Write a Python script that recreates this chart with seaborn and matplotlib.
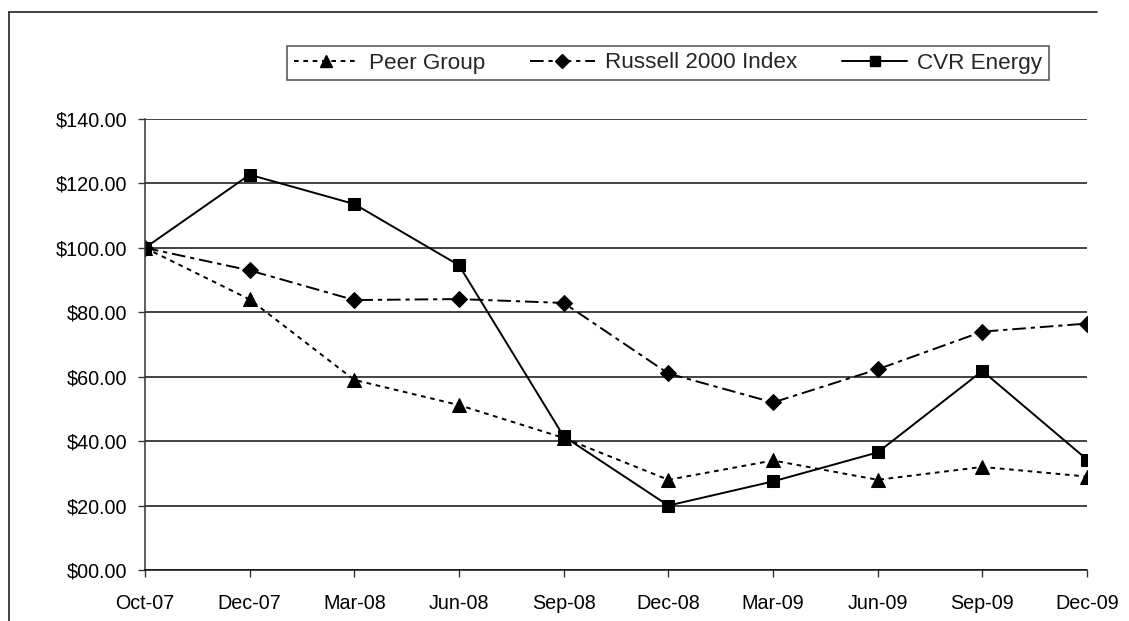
import matplotlib
matplotlib.use("Agg")
import matplotlib.pyplot as plt
from matplotlib.lines import Line2D
from matplotlib.ticker import FuncFormatter
import seaborn as sns
import pandas as pd

months = ["Oct-07", "Dec-07", "Mar-08", "Jun-08", "Sep-08",
          "Dec-08", "Mar-09", "Jun-09", "Sep-09", "Dec-09"]
peer_group = [100, 84.0, 59.0, 51.2, 41.0, 28.0, 34.0, 28.0, 32.0, 29.0]
russell_2000 = [100, 93.0, 83.8, 84.1, 82.9, 61.0, 52.0, 62.3, 74.0, 76.5]
cvr_energy = [100, 122.7, 113.6, 94.6, 41.5, 20.0, 27.5, 36.5, 61.8, 34.3]
series_names = ["Peer Group", "Russell 2000 Index", "CVR Energy"]
y_ticks = [0, 20, 40, 60, 80, 100, 120, 140]

sns.set_theme(style="white")
plt.rcParams["font.family"] = ["Liberation Sans", "DejaVu Sans"]

df = pd.DataFrame({
    "month": months * 3,
    "value": peer_group + russell_2000 + cvr_energy,
    "series": [series_names[0]] * len(months) + [series_names[1]] * len(months)
              + [series_names[2]] * len(months),
})

fig = plt.figure(figsize=(11.29, 6.21), dpi=100)
ax = fig.add_axes([145 / 1129, 1 - 570 / 621, (1087 - 145) / 1129, (570 - 119) / 621])

styles = {
    "Peer Group": dict(ls=(0, (2.4, 2.4)), marker="^", ms=9.5),
    "Russell 2000 Index": dict(ls=(0, (7, 2.5, 2.2, 2.5)), marker="D", ms=8),
    "CVR Energy": dict(ls="-", marker="s", ms=8),
}

handles = []
for name in series_names:
    st = styles[name]
    sub = df[df["series"] == name]
    sns.lineplot(data=sub, x="month", y="value", ax=ax, color="black",
                 linewidth=1.4, linestyle=st["ls"], marker=st["marker"],
                 markersize=st["ms"], markeredgecolor="black",
                 markerfacecolor="black", sort=False, legend=False)
    handles.append(Line2D([], [], color="black", linewidth=1.4,
                          linestyle=st["ls"], marker=st["marker"],
                          markersize=st["ms"] * 0.85, markerfacecolor="black",
                          markeredgecolor="black"))

ax.set_xlim(0, len(months) - 1)
ax.set_ylim(0, 140)
ax.set_yticks(y_ticks)
ax.yaxis.set_major_formatter(FuncFormatter(lambda v, p: f"${v:05.2f}"))
ax.set_xlabel("")
ax.set_ylabel("")
ax.grid(axis="y", color="#111111", linewidth=1.1)
ax.grid(axis="x", visible=False)
for s in ["top", "right"]:
    ax.spines[s].set_visible(False)
ax.spines["left"].set_color("#333333")
ax.spines["bottom"].set_color("#111111")
ax.spines["left"].set_linewidth(1.1)
ax.spines["bottom"].set_linewidth(1.1)
ax.tick_params(axis="both", which="major", direction="out", length=5,
               width=1, color="#333333", labelsize=14.2, labelcolor="black",
               bottom=True, left=True)
ax.tick_params(axis="x", pad=12)
ax.tick_params(axis="y", pad=8)

leg = fig.legend(handles, series_names, ncol=3, mode="expand",
                 loc="center",
                 bbox_to_anchor=(287 / 1129, 1 - 83 / 621, (1049 - 287) / 1129, 40 / 621),
                 fontsize=16.2, frameon=True, fancybox=False, shadow=False,
                 handlelength=2.9, handletextpad=0.45, columnspacing=1.0,
                 borderpad=0.3, borderaxespad=0)
leg.get_frame().set_edgecolor("#222222")
leg.get_frame().set_linewidth(1.1)

# outer chart frame (left and top edges)
fig.add_artist(Line2D([9 / 1129, 9 / 1129], [1 - 12 / 621, 0], color="#222222",
                      linewidth=1.2, transform=fig.transFigure))
fig.add_artist(Line2D([9 / 1129, 1097 / 1129], [1 - 12 / 621, 1 - 12 / 621],
                      color="#222222", linewidth=1.2, transform=fig.transFigure))

fig.savefig("out.png", dpi=100, facecolor="white")
